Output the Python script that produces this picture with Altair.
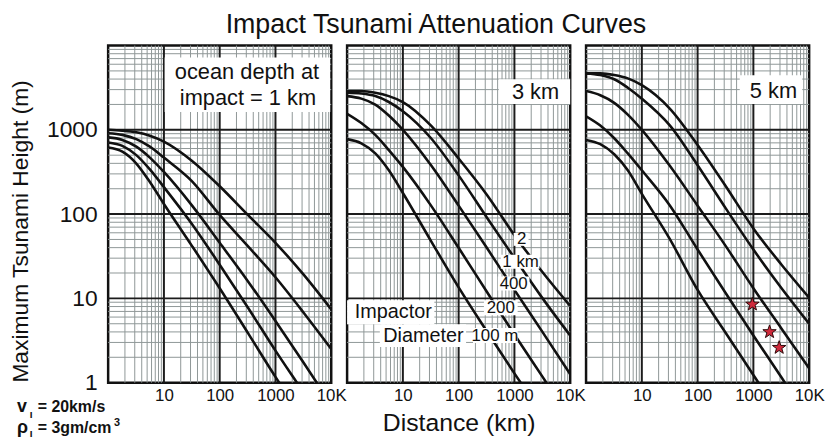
import altair as alt
import pandas as pd

FONT = "Liberation Sans"
INK = "#111111"
GRID_MINOR = "#8f9797"
GRID_MAJOR = "#1c1c1c"
STAR_FILL = "#d02a3c"

# ---------------- data ----------------
distance_km = [1, 1.8, 3.2, 5.6, 10, 32, 100, 320, 1000, 3200, 10000]
impactor_labels = ["100 m", "200", "400", "1 km", "2"]

# ocean depth 1 km
d1_100m = [617, 550, 398, 240, 132, 41.7, 13.2, 3.9, 1.17, 0.37, 0.12]
d1_200m = [708, 646, 501, 339, 209, 75.9, 25.1, 7.8, 2.4, 0.76, 0.24]
d1_400m = [813, 759, 631, 468, 316, 126, 45.7, 16.0, 5.4, 1.72, 0.55]
d1_1km = [912, 871, 776, 631, 468, 245, 97.7, 41.7, 17.8, 6.76, 2.51]
d1_2km = [1000, 977, 933, 851, 724, 427, 214, 97.7, 45.7, 19.1, 7.41]
# ocean depth 3 km
d3_100m = [776, 692, 525, 331, 178, 47.9, 13.5, 4.07, 1.29, 0.41, 0.13]
d3_200m = [1549, 1202, 871, 575, 363, 126, 39.8, 12.0, 3.72, 1.17, 0.37]
d3_400m = [2512, 2344, 1995, 1479, 1000, 380, 126, 39.8, 12.6, 3.98, 1.26]
d3_1km = [2754, 2692, 2512, 2138, 1660, 794, 288, 91.2, 30.2, 10.0, 3.63]
d3_2km = [2884, 2884, 2754, 2512, 2138, 1122, 457, 170, 56.2, 20.4, 8.13]
# ocean depth 5 km
d5_100m = [759, 676, 513, 331, 174, 50.1, 12.6, 3.89, 1.23, 0.39, 0.12]
d5_200m = [1445, 1122, 794, 525, 331, 126, 38.0, 11.5, 3.63, 1.15, 0.36]
d5_400m = [2884, 2570, 2089, 1514, 1000, 372, 126, 41.7, 13.2, 4.37, 1.48]
d5_1km = [4677, 4467, 3981, 3162, 2344, 1122, 380, 117, 38.0, 13.2, 5.01]
d5_2km = [4677, 4677, 4467, 4074, 3388, 1778, 661, 214, 67.6, 25.1, 10.2]

star_distance_km = [960, 1950, 2900]
star_height_m = [8.5, 4.0, 2.6]

x_tick_values = [10, 100, 1000, 10000]
y_tick_values = [1, 10, 100, 1000]
major_lines = [10, 100, 1000]
minor_multipliers = [2, 3, 4, 5, 6, 7, 8, 9]
decades = [1, 10, 100, 1000]

STAR = ("M0,-1L0.235,-0.324L0.951,-0.309L0.380,0.124L0.588,0.809L0,0.4"
        "L-0.588,0.809L-0.380,0.124L-0.951,-0.309L-0.235,-0.324Z")

W, H = 225, 340
minor_values = [m * d for d in decades for m in minor_multipliers]
one = pd.DataFrame({"k": [0]})


def xscale():
    return alt.Scale(type="log", domain=[1, 10000], nice=False)


def yscale():
    return alt.Scale(type="log", domain=[1, 10000], nice=False)


def text(t, x, y, size, align="center", weight="normal", baseline="middle"):
    return alt.Chart(one).mark_text(
        text=t, font=FONT, fontSize=size, fontWeight=weight, align=align,
        baseline=baseline, color=INK
    ).encode(x=alt.value(x), y=alt.value(y))


def box(x0, x1, y0, y1):
    return alt.Chart(one).mark_rect(color="white").encode(
        x=alt.value(x0), x2=alt.value(x1), y=alt.value(y0), y2=alt.value(y1)
    )


def make_xaxis(x_title):
    kw = dict(
        values=x_tick_values,
        labelExpr="datum.value >= 10000 ? '10K' : format(datum.value, 'd')",
        grid=False, ticks=False, domain=False, labelFlush=False, labelOverlap=False,
        labelFontSize=17, labelPadding=5, labelFont=FONT, labelColor=INK,
    )
    if x_title:
        return alt.Axis(title=x_title, titleFontSize=25, titleFontWeight="normal",
                        titleFont=FONT, titleColor=INK, titlePadding=7, **kw)
    return alt.Axis(title=None, **kw)


def make_yaxis(show_y):
    if show_y:
        return alt.Axis(
            values=y_tick_values, format="d", grid=False, ticks=False, domain=False,
            labelFlush=False, labelOverlap=False, labelFontSize=23, labelPadding=11,
            labelFont=FONT, labelColor=INK,
            title="Maximum Tsunami Height (m)", titleFontSize=23, titleFontWeight="normal",
            titleFont=FONT, titleColor=INK, titleX=-88, titleY=187, titleAngle=270,
            titleAlign="center", titleBaseline="middle",
        )
    return alt.Axis(values=y_tick_values, labels=False, grid=False, ticks=False,
                    domain=False, title=None)


def panel(series, show_y, x_title, extras_fn):
    xaxis = make_xaxis(x_title)
    yaxis = make_yaxis(show_y)

    rows = []
    for lab, vals in zip(impactor_labels, series):
        for d, h in zip(distance_km, vals):
            rows.append({"impactor": lab, "distance": d, "height": h})
    df = pd.DataFrame(rows)

    minor_df = pd.DataFrame({"v": minor_values})
    major_df = pd.DataFrame({"v": major_lines})

    minor_v = alt.Chart(minor_df).mark_rule(color=GRID_MINOR, strokeWidth=1).encode(
        x=alt.X("v:Q", scale=xscale(), axis=xaxis))
    minor_h = alt.Chart(minor_df).mark_rule(color=GRID_MINOR, strokeWidth=1).encode(
        y=alt.Y("v:Q", scale=yscale(), axis=yaxis))
    major_v = alt.Chart(major_df).mark_rule(color=GRID_MAJOR, strokeWidth=2).encode(
        x=alt.X("v:Q", scale=xscale(), axis=xaxis))
    major_h = alt.Chart(major_df).mark_rule(color=GRID_MAJOR, strokeWidth=2).encode(
        y=alt.Y("v:Q", scale=yscale(), axis=yaxis))

    lines = alt.Chart(df).mark_line(
        color=INK, strokeWidth=2.6, interpolate="monotone", clip=True
    ).encode(
        x=alt.X("distance:Q", scale=xscale(), axis=xaxis),
        y=alt.Y("height:Q", scale=yscale(), axis=yaxis),
        detail="impactor:N",
    )
    extras = extras_fn(xaxis, yaxis)
    return alt.layer(minor_v, minor_h, major_v, major_h, lines, *extras).properties(
        width=W, height=H)


def p1_extras(xaxis, yaxis):
    return [
        box(57, 224, 12, 67),
        text("ocean depth at", 140, 27, 22),
        text("impact = 1 km", 141, 53, 22),
        # impactor parameters, bottom left
        text("v", -92, 370, 18, align="left", weight="bold", baseline="alphabetic"),
        text("I", -79, 376, 10, align="left", weight="bold", baseline="alphabetic"),
        text("= 20km/s", -71, 370, 16, align="left", weight="bold", baseline="alphabetic"),
        text("ρ", -92, 391, 18, align="left", weight="bold", baseline="alphabetic"),
        text("I", -79, 395, 10, align="left", weight="bold", baseline="alphabetic"),
        text("= 3gm/cm", -71, 391, 16, align="left", weight="bold", baseline="alphabetic"),
        text("3", 6, 384, 11, align="left", weight="bold", baseline="alphabetic"),
    ]


def p2_extras(xaxis, yaxis):
    return [
        box(153, 225, 34, 59),
        text("3 km", 190, 46.5, 22),
        box(168, 183, 189, 202), text("2", 176, 195.5, 17),
        box(155, 194, 211, 225), text("1 km", 175, 218.5, 17),
        box(152, 184, 233, 247), text("400", 168, 240.5, 17),
        box(138, 172, 257, 272), text("200", 155, 264.5, 17),
        box(127, 172, 285, 300), text("100 m", 149, 292.5, 17),
        box(0, 88, 257, 281), text("Impactor", 46.5, 269, 20),
        box(33, 120, 281, 304), text("Diameter", 77, 292.5, 20),
    ]


def p3_extras(xaxis, yaxis):
    stars = alt.Chart(pd.DataFrame({"d": star_distance_km, "h": star_height_m})).mark_point(
        shape=STAR, filled=True, fill=STAR_FILL, stroke="#2a0808", strokeWidth=1,
        size=200, opacity=1,
    ).encode(
        x=alt.X("d:Q", scale=xscale(), axis=xaxis),
        y=alt.Y("h:Q", scale=yscale(), axis=yaxis),
    )
    return [
        box(155, 218, 30, 59),
        text("5 km", 189, 45.5, 22),
        stars,
    ]


p1 = panel([d1_100m, d1_200m, d1_400m, d1_1km, d1_2km], True, None, p1_extras)
p2 = panel([d3_100m, d3_200m, d3_400m, d3_1km, d3_2km], False, "Distance (km)", p2_extras)
p3 = panel([d5_100m, d5_200m, d5_400m, d5_1km, d5_2km], False, None, p3_extras)

chart = alt.hconcat(p1, p2, p3, spacing=16, bounds="flush").properties(
    title=alt.TitleParams(
        "Impact Tsunami Attenuation Curves", font=FONT, fontSize=27,
        fontWeight="normal", color=INK, anchor="middle", offset=4, dx=19,
    ),
    padding={"left": 0, "top": 1, "right": 0, "bottom": 0},
).configure_view(stroke=INK, strokeWidth=2.5)

chart.save("out.html", embed_options={"renderer": "svg", "actions": False})
